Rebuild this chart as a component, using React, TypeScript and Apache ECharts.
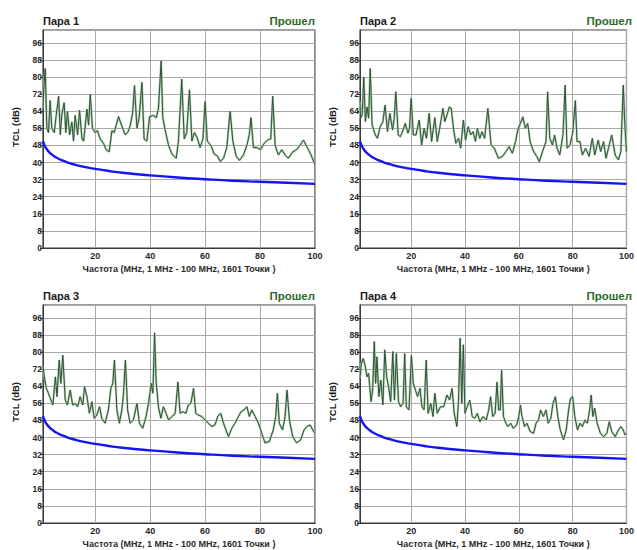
import React, { useEffect, useRef } from "react";
import * as echarts from "echarts";

// ---- Data (frequency MHz, TCL dB) ----
const pair1Data: [number, number][] = [
  [1, 65], [1.2, 73], [1.8, 84], [2.4, 56], [3.0, 54], [3.6, 69], [4.2, 56], [5.1, 54], [5.8, 62], [6.7, 71],
  [7.3, 53], [7.9, 63], [8.7, 68], [9.3, 54], [9.9, 64], [10.7, 53], [11.5, 59], [12.1, 50], [12.7, 62], [13.6, 53],
  [14.3, 64.5], [15.2, 51], [15.8, 50], [17.0, 65], [17.6, 57.5], [18.2, 72], [19.0, 56], [20.0, 54], [20.8, 55], [21.8, 51],
  [23.0, 49], [24.0, 46], [25.1, 45], [26.1, 55], [26.9, 54], [28.5, 61.5], [29.7, 57], [30.9, 53], [31.8, 54], [32.7, 57],
  [33.6, 63], [34.3, 76], [35.2, 56], [36.0, 61], [37.0, 77.5], [37.8, 51], [38.8, 50], [39.8, 61.5], [41.2, 62], [42.2, 61],
  [43.0, 65], [44.0, 87.5], [44.6, 61], [45.5, 55], [46.7, 48], [47.9, 44], [49.5, 42], [50.3, 50], [51.5, 79], [52.4, 51],
  [53.3, 54], [54.3, 74], [55.2, 50], [56.1, 54], [57.0, 52], [58.2, 47], [59.2, 51], [60.0, 68.5], [60.8, 50], [62.1, 48],
  [63.3, 44], [64.5, 43], [65.5, 40.5], [66.7, 42], [67.9, 47], [69.1, 64], [70.1, 50], [71.3, 43], [72.5, 41], [73.9, 43.5],
  [75.2, 48], [76.1, 53], [76.7, 61], [77.6, 47], [78.8, 47], [80.2, 46], [81.5, 49], [82.7, 50.5], [83.9, 51], [84.6, 71],
  [85.5, 48], [86.7, 43.5], [87.9, 46], [89.1, 43.5], [90.3, 42], [91.9, 45], [93.3, 46], [94.5, 48], [95.8, 50.5], [97.0, 47.5],
  [98.4, 44], [100, 39],
];

const pair2Data: [number, number][] = [
  [1, 68.4], [1.2, 60.7], [1.8, 62.2], [2.4, 80], [3.0, 59.1], [3.6, 66], [4.2, 60.7], [4.8, 84], [5.5, 57.5], [6.7, 52.9],
  [7.5, 51.3], [8.5, 56.8], [9.5, 59.1], [10.3, 66.9], [11.2, 54.4], [12.1, 63], [13.1, 55.2], [13.7, 60.7], [14.3, 73.1], [15.2, 52.9],
  [16.0, 52.1], [17.0, 55.2], [17.8, 58.3], [18.8, 53.7], [19.4, 56], [20.0, 70], [20.8, 52.9], [21.8, 52.9], [23.0, 59.9], [23.9, 48.2],
  [24.8, 56], [25.7, 51.3], [26.7, 63], [27.6, 49.8], [28.8, 61], [29.7, 49.8], [30.5, 55.2], [31.8, 65.3], [32.5, 59.1], [33.3, 62.2],
  [34.2, 66], [34.9, 65.3], [35.8, 55.2], [36.6, 49], [37.6, 51.3], [38.4, 46.7], [39.4, 59.9], [40.2, 50.5], [41.2, 56.8], [42.1, 52.9],
  [43.0, 54.4], [43.9, 49.8], [44.6, 56], [45.5, 51.3], [46.3, 54.4], [47.3, 51.3], [48.5, 65.3], [49.7, 48.2], [50.9, 46.7], [52.4, 42],
  [53.9, 42.8], [55.2, 45.1], [56.4, 47.4], [57.6, 44.3], [58.8, 49.8], [59.6, 55.2], [60.6, 58.3], [61.5, 61.4], [62.4, 56], [63.3, 58.3],
  [64.2, 49.8], [65.5, 45.1], [66.7, 42.8], [67.6, 40.4], [68.8, 45.1], [70.1, 49.8], [70.7, 73.1], [71.5, 51.3], [72.5, 48.2], [73.3, 52.9],
  [74.2, 46.7], [75.2, 43.5], [76.4, 52.9], [77.2, 76.2], [77.9, 46.7], [79.0, 48.2], [80.0, 53.7], [81.0, 69], [81.6, 49.8], [82.7, 49.8],
  [83.6, 43.5], [84.8, 46.7], [86.1, 42.8], [87.3, 51.3], [88.2, 43.5], [89.5, 50.5], [90.4, 45.1], [91.5, 49.8], [92.4, 42], [93.3, 46.7],
  [94.5, 52.9], [95.8, 43.5], [97.0, 41.2], [97.9, 45.1], [98.8, 76.2], [99.4, 57.5], [100, 45.1],
];

const pair3Data: [number, number][] = [
  [1, 73.1], [1.5, 68.4], [2.2, 63], [3.0, 60.7], [3.9, 57.5], [4.6, 55.2], [5.5, 68.4], [6.1, 59.1], [6.9, 76.2], [7.5, 65.3],
  [8.2, 78.5], [9.1, 57.5], [9.9, 55.2], [10.9, 62.2], [11.8, 55.2], [12.7, 56], [13.6, 54.4], [14.5, 59.1], [15.5, 55.2], [16.1, 63.8],
  [17.0, 59.1], [17.9, 51.3], [18.8, 56.8], [19.6, 49], [20.6, 50.5], [21.6, 54.4], [22.4, 49], [23.6, 46.7], [24.8, 52.9], [25.7, 63],
  [26.4, 65.3], [27.0, 76.2], [27.9, 52.9], [28.8, 46.7], [29.7, 52.9], [30.3, 60.7], [31.0, 76.2], [31.8, 52.9], [32.7, 46.7], [33.9, 48.2],
  [35.2, 56], [36.1, 46.7], [37.3, 44.3], [38.5, 49.8], [39.4, 56], [40.4, 65.3], [41.0, 60.7], [41.6, 89], [42.2, 66], [43.0, 54.4],
  [43.9, 49], [44.8, 54.4], [45.8, 51.3], [46.7, 48.2], [47.9, 49.8], [49.1, 51.3], [50.1, 66], [50.9, 51.3], [51.9, 52.1], [53.0, 51.3],
  [53.9, 55.2], [54.8, 56], [55.8, 63], [56.6, 51.3], [57.6, 50.5], [58.8, 49.8], [60.0, 48.2], [61.2, 46.7], [62.4, 45.1], [63.6, 45.9],
  [64.6, 49.8], [65.7, 51.3], [66.7, 46.7], [67.6, 43.5], [68.5, 40.4], [69.7, 44.3], [70.9, 46.7], [72.1, 49.8], [73.1, 52.1], [74.2, 52.9],
  [75.2, 54.4], [76.1, 49.8], [77.0, 52.9], [78.2, 49.8], [79.4, 46.7], [80.6, 42], [81.8, 37.5], [83.4, 38.2], [84.8, 43.5], [85.7, 49.8],
  [86.3, 60.7], [87.0, 46.7], [88.2, 43.5], [89.1, 49.8], [89.8, 62.2], [90.7, 48.2], [91.9, 40.4], [93.3, 37.5], [94.8, 38.9], [96.0, 43.5],
  [97.0, 45.1], [98.2, 45.9], [99.2, 43.5], [100, 42],
];

const pair4Data: [number, number][] = [
  [1, 67.8], [1.5, 74.6], [2.2, 77], [3.0, 73.1], [3.6, 68.4], [4.2, 70], [5.1, 56.8], [5.7, 62.2], [6.3, 84.9], [6.8, 65.3],
  [7.3, 77.8], [8.0, 59.1], [8.7, 66.9], [9.5, 55.2], [10.2, 81], [10.9, 68.4], [11.6, 63.8], [12.4, 56.8], [13.2, 80.2], [13.8, 57.5],
  [14.5, 79.3], [15.3, 56.8], [16.1, 54.4], [17.0, 56], [17.6, 79.3], [18.2, 54.4], [19.2, 52.9], [20.1, 78.5], [20.8, 65.3], [21.6, 62.2],
  [22.4, 59.1], [23.3, 63], [24.0, 54.4], [24.8, 52.9], [25.6, 76.2], [26.3, 51.3], [27.3, 56], [28.1, 49.8], [28.8, 60.7], [29.7, 51.3],
  [30.9, 54.4], [32.1, 54.4], [33.3, 59.9], [34.3, 57.5], [35.2, 63], [36.0, 51.3], [37.0, 45.1], [37.6, 57.5], [38.2, 86.5], [38.8, 56],
  [39.4, 83.4], [40.0, 51.3], [40.8, 54.4], [41.8, 57.5], [42.7, 49.8], [43.6, 49], [44.6, 51.3], [45.5, 47.4], [46.7, 49.8], [47.9, 48.2],
  [48.8, 52.9], [49.5, 59.1], [50.3, 49.8], [51.2, 51.3], [51.9, 66], [52.5, 52.9], [53.1, 52.9], [53.6, 71.5], [54.3, 49.8], [55.2, 46.7],
  [56.0, 45.1], [57.0, 46.7], [57.9, 44.3], [59.2, 45.9], [60.0, 49.8], [60.6, 55.2], [61.2, 49.8], [62.1, 45.1], [63.0, 46.7], [64.2, 42.8],
  [65.5, 42], [66.4, 46.7], [67.3, 48.2], [68.1, 52.9], [69.1, 49.8], [70.1, 52.9], [70.9, 46.7], [71.9, 49], [72.7, 56], [73.6, 59.1],
  [74.5, 49.8], [75.4, 43.5], [76.6, 38.9], [77.6, 43.5], [78.5, 52.9], [79.2, 58.3], [80.0, 59.1], [80.8, 49.8], [81.8, 43.5], [82.7, 46.7],
  [83.6, 45.1], [84.6, 48.2], [85.5, 46.7], [86.3, 52.9], [86.9, 59.9], [87.5, 49.8], [88.2, 53.7], [89.1, 46.7], [90.3, 42], [91.5, 40.4],
  [92.7, 42], [93.6, 47.4], [94.5, 42.8], [95.8, 40.4], [97.0, 43.5], [97.9, 45.1], [98.8, 43.5], [99.4, 41.2], [100, 42],
];

// limit line (same for all pairs)
const limitData: [number, number][] = [
  [1, 50], [1.5, 48.2], [2, 47], [3, 45.2], [4, 44], [5, 43], [6, 42.2], [8, 41], [10, 40], [12, 39.2],
  [15, 38.2], [20, 37], [25, 36], [30, 35.2], [40, 34], [50, 33], [60, 32.2], [70, 31.5], [80, 31], [90, 30.5], [100, 30],
];

const panelTitles = ["Пара 1", "Пара 2", "Пара 3", "Пара 4"];
const panelData = [pair1Data, pair2Data, pair3Data, pair4Data];
const statusText = "Прошел";
const xTickValues = [20, 40, 60, 80, 100];
const yAxisName = "TCL (dB)";
const xAxisName = "Частота (MHz, 1 MHz - 100 MHz, 1601 Точки )";

const FONT = "'Liberation Sans', Arial, sans-serif";

export default function App() {
  const ref = useRef<HTMLDivElement>(null);

  useEffect(() => {
    if (!ref.current) return;
    const chart = echarts.init(ref.current, undefined, { renderer: "svg" });

    const lefts = [43, 360, 43, 360];
    const tops = [30, 30, 305, 305];
    const W = 272;
    const H = 218;

    const grid: any[] = [];
    const xAxis: any[] = [];
    const yAxis: any[] = [];
    const series: any[] = [];
    const graphic: any[] = [];

    for (let i = 0; i < 4; i++) {
      grid.push({
        left: lefts[i],
        top: tops[i],
        width: W,
        height: H,
        show: true,
        borderColor: "#3a3a3a",
        borderWidth: 1.2,
        backgroundColor: "#fff",
      });
      xAxis.push({
        type: "value",
        gridIndex: i,
        min: 1,
        max: 100,
        name: xAxisName,
        nameLocation: "middle",
        nameGap: 16,
        nameTextStyle: { fontFamily: FONT, fontSize: 9, fontWeight: "bold", color: "#2a2a2a" },
        axisLine: { show: true, lineStyle: { color: "#3a3a3a" } },
        axisTick: { show: false, customValues: xTickValues },
        axisLabel: {
          customValues: xTickValues,
          fontFamily: FONT,
          fontSize: 9,
          fontWeight: "bold",
          color: "#2a2a2a",
          margin: 3,
        },
        splitLine: { show: true, lineStyle: { color: "#a8a8a8", width: 1 } },
      });
      yAxis.push({
        type: "value",
        gridIndex: i,
        min: 0,
        max: 102,
        interval: 8,
        axisLine: { show: true, lineStyle: { color: "#3a3a3a" } },
        axisTick: { show: true, length: 3, lineStyle: { color: "#3a3a3a" } },
        axisLabel: {
          showMaxLabel: false,
          fontFamily: FONT,
          fontSize: 8.5,
          fontWeight: "bold",
          color: "#2a2a2a",
          margin: 1,
        },
        splitLine: { show: true, lineStyle: { color: "#a8a8a8", width: 1 } },
      });
      // light halo under measured line
      series.push({
        type: "line",
        xAxisIndex: i,
        yAxisIndex: i,
        data: panelData[i],
        showSymbol: false,
        lineStyle: { color: "#a9cfa9", width: 2.2 },
        z: 2,
      });
      series.push({
        type: "line",
        xAxisIndex: i,
        yAxisIndex: i,
        data: panelData[i],
        showSymbol: false,
        lineStyle: { color: "#33503a", width: 1 },
        z: 3,
      });
      series.push({
        type: "line",
        xAxisIndex: i,
        yAxisIndex: i,
        data: limitData,
        showSymbol: false,
        smooth: true,
        lineStyle: { color: "#1414f5", width: 2.4 },
        z: 4,
      });

      graphic.push({
        type: "text",
        x: lefts[i],
        y: tops[i] - 9,
        style: {
          text: panelTitles[i],
          fill: "#1a1a1a",
          font: `bold 11px ${FONT}`,
          textAlign: "left",
          textVerticalAlign: "middle",
        },
      });
      graphic.push({
        type: "text",
        x: lefts[i] + W,
        y: tops[i] - 9,
        style: {
          text: statusText,
          fill: "#2a6a2a",
          font: `bold 11.5px ${FONT}`,
          textAlign: "right",
          textVerticalAlign: "middle",
        },
      });
      graphic.push({
        type: "text",
        x: lefts[i] - 28,
        y: tops[i] + 97,
        rotation: Math.PI / 2,
        style: {
          text: yAxisName,
          fill: "#1a1a1a",
          font: `bold 9.5px ${FONT}`,
          textAlign: "center",
          textVerticalAlign: "middle",
        },
      });
    }

    chart.setOption({
      animation: false,
      backgroundColor: "#fff",
      grid,
      xAxis,
      yAxis,
      series,
      graphic,
    });

    return () => chart.dispose();
  }, []);

  return (
    <div
      ref={ref}
      style={{ position: "absolute", left: 0, top: 0, width: 637, height: 550, background: "#fff" }}
    />
  );
}
